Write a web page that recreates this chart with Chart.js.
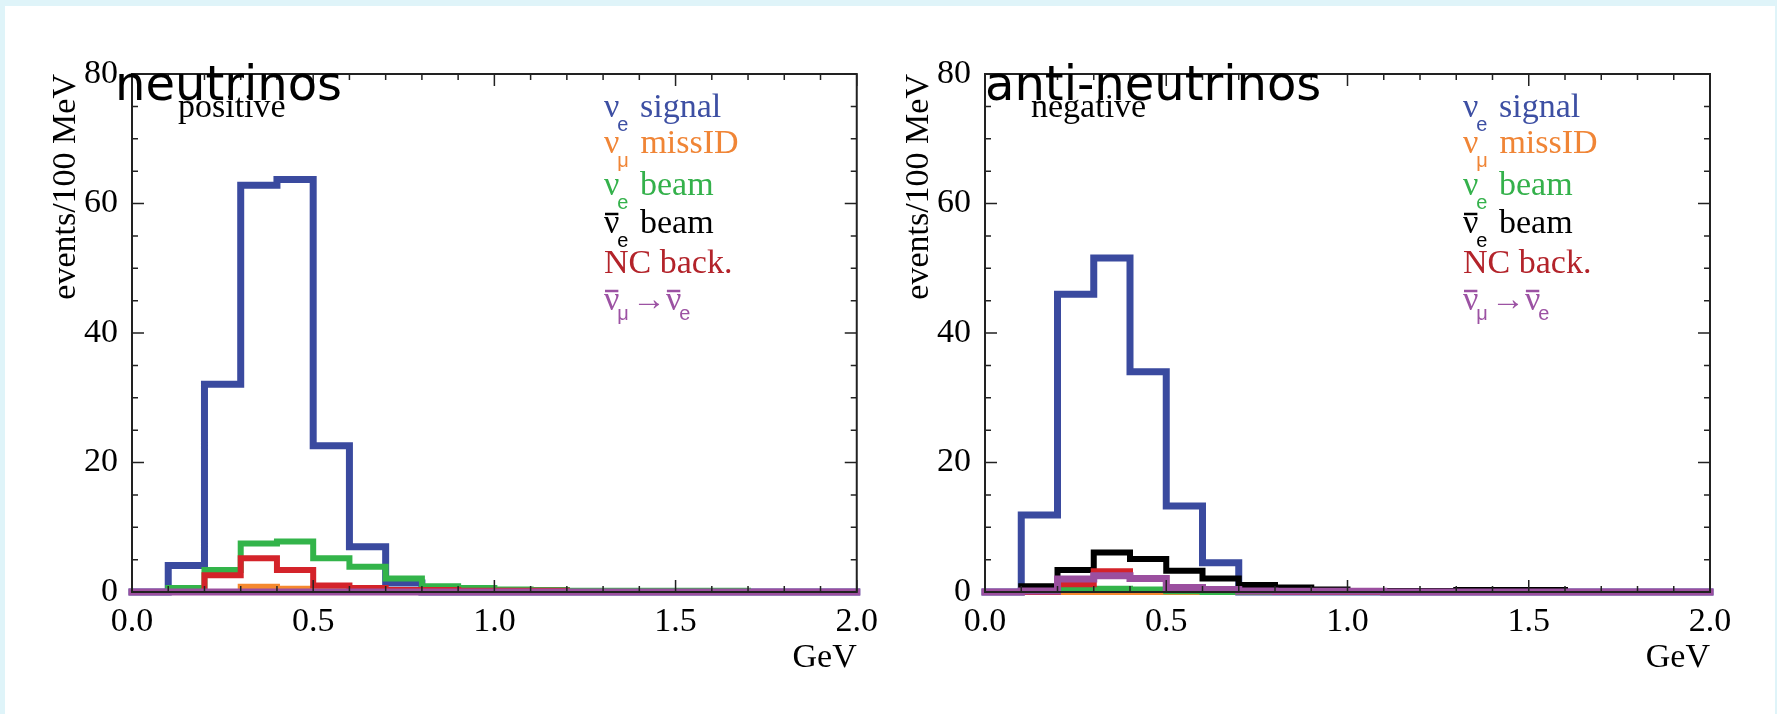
<!DOCTYPE html>
<html>
<head>
<meta charset="utf-8">
<script src="https://cdn.jsdelivr.net/npm/chart.js@4.4.1/dist/chart.umd.min.js"></script>
<style>
    html, body { margin: 0; padding: 0; }
    body { width: 1777px; height: 714px; overflow: hidden; position: relative; background: #dff4f9; }
    #panel { position: absolute; left: 5px; top: 6px; right: 2px; bottom: 0; background: #fff; }
    .plot { position: absolute; top: 0; height: 714px; }
    #leftBox { left: 0; width: 888px; }
    #rightBox { left: 853px; width: 924px; }
</style>
</head>
<body>
<div id="panel"></div>
<div class="plot" id="leftBox"><canvas id="nuChart" width="888" height="714"></canvas></div>
<div class="plot" id="rightBox"><canvas id="antiChart" width="924" height="714"></canvas></div>

<script>
// ===============================
// DATA
// ===============================

// histogram bin edges (GeV), 20 bins of 100 MeV
const binEdges = [0.0, 0.1, 0.2, 0.3, 0.4, 0.5, 0.6, 0.7, 0.8, 0.9, 1.0,
                  1.1, 1.2, 1.3, 1.4, 1.5, 1.6, 1.7, 1.8, 1.9, 2.0];

const xTickLabels = ["0.0", "0.5", "1.0", "1.5", "2.0"];
const yTickLabels = ["0", "20", "40", "60", "80"];

// neutrinos (positive)
const nuSignal   = [0, 4.1, 32.1, 62.8, 63.7, 22.6, 7.0, 1.4, 0, 0, 0, 0, 0, 0, 0, 0, 0, 0, 0, 0];
const nuMissID   = [0, 0, 0, 0.8, 0.5, 0.2, 0.1, 0, 0, 0, 0, 0, 0, 0, 0, 0, 0, 0, 0, 0];
const nuBeamE    = [0, 0.6, 3.4, 7.5, 7.8, 5.2, 3.9, 2.1, 0.9, 0.6, 0.4, 0.3, 0.2, 0.2, 0.2, 0.2, 0.2, 0, 0, 0];
const nuBeamEbar = [0, 0, 0, 0, 0, 0, 0, 0, 0, 0, 0, 0, 0, 0, 0, 0, 0, 0, 0, 0];
const nuNC       = [0, 0, 2.6, 5.2, 3.4, 1.0, 0.6, 0.3, 0.3, 0.2, 0.2, 0.2, 0, 0, 0, 0, 0, 0, 0, 0];
const nuOsc      = [0, 0, 0, 0, 0, 0, 0, 0, 0, 0, 0, 0, 0, 0, 0, 0, 0, 0, 0, 0];

// anti-neutrinos (negative)
const antiSignal   = [0, 11.9, 46.0, 51.6, 34.0, 13.3, 4.5, 0, 0, 0, 0, 0, 0, 0, 0, 0, 0, 0, 0, 0];
const antiMissID   = [0, 0, 0, 0, 0, 0, 0, 0, 0, 0, 0, 0, 0, 0, 0, 0, 0, 0, 0, 0];
const antiBeamE    = [0, 0, 0.5, 0.5, 0.4, 0.1, 0, 0, 0, 0, 0, 0, 0, 0, 0, 0, 0, 0, 0, 0];
const antiBeamEbar = [0, 0.9, 3.4, 6.1, 5.1, 3.3, 2.1, 1.1, 0.7, 0.4, 0.15, 0.15, 0.15, 0.3, 0.3, 0.3, 0, 0, 0, 0];
const antiNC       = [0, 0, 1.2, 3.2, 2.1, 0.6, 0.3, 0.1, 0, 0, 0, 0, 0, 0, 0, 0, 0, 0, 0, 0];
const antiOsc      = [0, 0.15, 2.0, 2.5, 2.1, 0.7, 0.4, 0.15, 0.1, 0.1, 0.1, 0, 0, 0, 0, 0, 0, 0, 0, 0];

const seriesNames  = ["νe signal", "νμ missID", "νe beam", "anti-νe beam", "NC back.", "anti-νμ→anti-νe"];
const seriesColors = ["#3a4a9f", "#f5892f", "#33b44a", "#000000", "#d4232a", "#9b4f9f"];
const seriesWidths = [7, 6, 6, 6, 6, 7];
const legendColors = ["#3d4fa3", "#f08536", "#34b14b", "#000000", "#b3232a", "#9c52a3"];

// legend rows: [text, kind]  kind: undefined = normal, "sub" = subscript, "bar" = overlined
const legendRows = [
    [["ν"], ["e", "sub"], [" signal"]],
    [["ν"], ["μ", "sub"], [" missID"]],
    [["ν"], ["e", "sub"], [" beam"]],
    [["ν", "bar"], ["e", "sub"], [" beam"]],
    [["NC back."]],
    [["ν", "bar"], ["μ", "sub"], ["→"], ["ν", "bar"], ["e", "sub"]]
];

// ===============================
// HELPERS
// ===============================

const SERIF = '"Liberation Serif", "Times New Roman", serif';
const SANS  = '"Liberation Sans", Arial, sans-serif';

// histogram -> points for a stepped line
function toSteps(values){
    const pts = values.map((v, i) => ({ x: binEdges[i], y: v }));
    pts.push({ x: binEdges[binEdges.length - 1], y: values[values.length - 1] });
    return pts;
}

function makeDatasets(list){
    return list.map((vals, i) => ({
        label: seriesNames[i],
        data: toSteps(vals),
        borderColor: seriesColors[i],
        borderWidth: seriesWidths[i],
        borderCapStyle: "square",
        stepped: "before",
        pointRadius: 0,
        fill: false,
        clip: false,
        order: 6 - i
    }));
}

// frame, inward ticks, titles and text legend (ROOT look)
const rootDecor = {
    id: "rootDecor",
    afterDatasetsDraw(chart, args, opts){
        const ctx = chart.ctx;
        const a = chart.chartArea;
        const xs = chart.scales.x;
        const ys = chart.scales.y;

        ctx.save();

        // frame
        ctx.strokeStyle = "#222";
        ctx.lineWidth = 2;
        ctx.strokeRect(a.left, a.top, a.right - a.left, a.bottom - a.top);

        // ticks
        ctx.lineWidth = 1.5;
        ctx.beginPath();
        for (let i = 0; i <= 20; i++) {
            const px = xs.getPixelForValue(xs.min + i * 0.1);
            const len = (i % 5 === 0) ? 12 : 6;
            ctx.moveTo(px, a.bottom); ctx.lineTo(px, a.bottom - len);
            ctx.moveTo(px, a.top); ctx.lineTo(px, a.top + len);
        }
        for (let i = 0; i <= 16; i++) {
            const py = ys.getPixelForValue(ys.min + i * 5);
            const len = (i % 4 === 0) ? 12 : 6;
            ctx.moveTo(a.left, py); ctx.lineTo(a.left + len, py);
            ctx.moveTo(a.right, py); ctx.lineTo(a.right - len, py);
        }
        ctx.stroke();

        // titles
        ctx.fillStyle = "#000";
        ctx.textBaseline = "alphabetic";
        ctx.textAlign = "left";
        ctx.font = '48px "DejaVu Sans"';
        ctx.fillText(opts.title, a.left + opts.titleDx, a.top + 26);
        ctx.font = "34px " + SERIF;
        ctx.fillText(opts.sign, a.left + 46, a.top + 43);

        // legend
        const rowY = [43, 79, 121, 159, 199, 236];
        legendRows.forEach((row, r) => {
            let x = a.left + opts.legendDx;
            const base = a.top + rowY[r];
            ctx.fillStyle = legendColors[r];
            ctx.strokeStyle = legendColors[r];
            row.forEach(part => {
                const txt = part[0];
                const kind = part[1];
                if (kind === "sub") {
                    ctx.font = "20px " + SANS;
                    x -= 2;
                    ctx.fillText(txt, x, base + (r === 5 ? 10 : 14));
                    x += ctx.measureText(txt).width + 3;
                } else {
                    ctx.font = "34px " + SERIF;
                    ctx.fillText(txt, x, base);
                    const w = ctx.measureText(txt).width;
                    if (kind === "bar") {
                        ctx.lineWidth = 2.5;
                        ctx.beginPath();
                        ctx.moveTo(x + 1, base - 19);
                        ctx.lineTo(x + w - 1, base - 19);
                        ctx.stroke();
                    }
                    x += w;
                }
            });
        });

        ctx.restore();
    }
};

function makeChart(canvasId, series, decor, padRight){
    return new Chart(document.getElementById(canvasId), {
        type: "line",
        data: { datasets: makeDatasets(series) },
        plugins: [rootDecor],
        options: {
            responsive: false,
            animation: false,
            layout: { padding: { left: 30, top: 74, right: padRight, bottom: 0 } },
            plugins: {
                legend: { display: false },
                tooltip: { enabled: false },
                rootDecor: decor
            },
            scales: {
                x: {
                    type: "linear",
                    min: 0,
                    max: 2,
                    grid: { display: false, drawTicks: false },
                    border: { display: false },
                    ticks: {
                        stepSize: 0.5,
                        autoSkip: false,
                        maxRotation: 0,
                        padding: 10,
                        color: "#000",
                        font: { family: SERIF, size: 34 },
                        callback: (v, i) => xTickLabels[i]
                    },
                    title: {
                        display: true,
                        text: "GeV",
                        align: "end",
                        color: "#000",
                        font: { family: SERIF, size: 34 },
                        padding: { top: 0, bottom: 36 }
                    },
                    afterFit: s => { s.height = 122; }
                },
                y: {
                    min: 0,
                    max: 80,
                    grid: { display: false, drawTicks: false },
                    border: { display: false },
                    ticks: {
                        stepSize: 20,
                        padding: 14,
                        color: "#000",
                        font: { family: SERIF, size: 34 },
                        callback: (v, i) => yTickLabels[i]
                    },
                    title: {
                        display: true,
                        text: "events/100 MeV",
                        align: "end",
                        color: "#000",
                        font: { family: SERIF, size: 34 },
                        padding: { top: 16, bottom: 0 }
                    },
                    afterFit: s => { s.width = 102; }
                }
            }
        }
    });
}

// ===============================
// CHARTS
// ===============================

makeChart("nuChart",
    [nuSignal, nuMissID, nuBeamE, nuBeamEbar, nuNC, nuOsc],
    { title: "neutrinos", sign: "positive", titleDx: -17, legendDx: 472 },
    29);

makeChart("antiChart",
    [antiSignal, antiMissID, antiBeamE, antiBeamEbar, antiNC, antiOsc],
    { title: "anti-neutrinos", sign: "negative", titleDx: 0, legendDx: 478 },
    67);
</script>
</body>
</html>
